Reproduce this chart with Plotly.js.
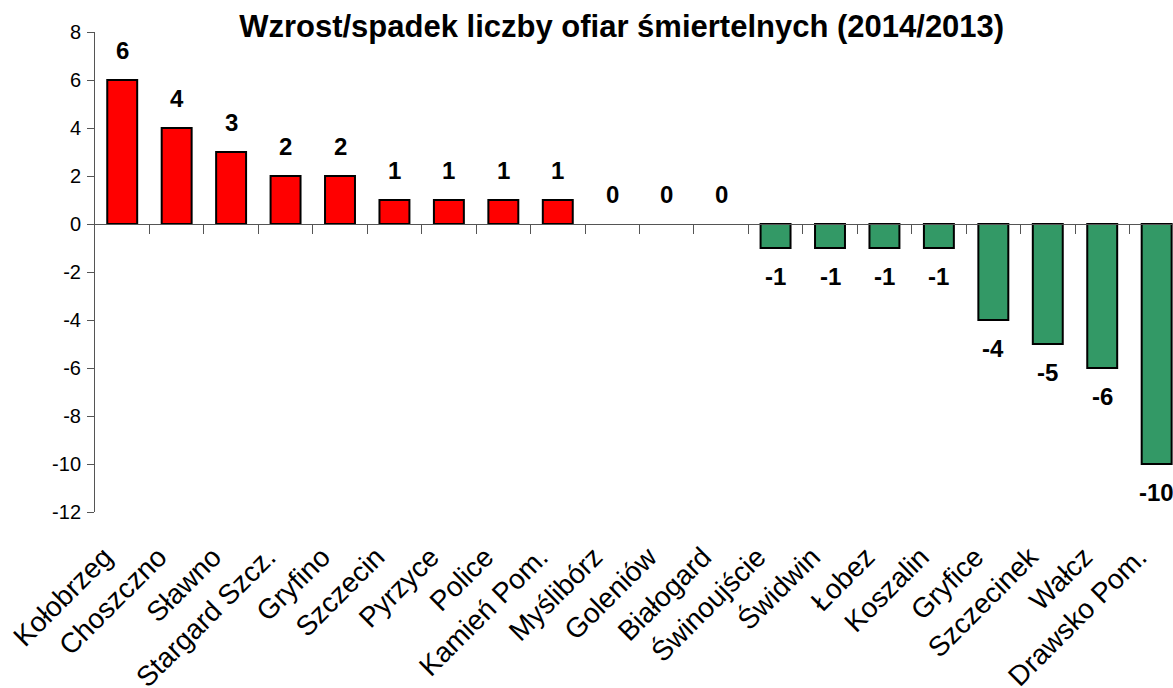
<!DOCTYPE html>
<html>
<head>
<meta charset="utf-8">
<script src="https://cdn.plot.ly/plotly-3.0.1.min.js"></script>
<style>
html,body{margin:0;padding:0;overflow:hidden;background:#fff;}
#chart{width:1173px;height:688px;}
</style>
</head>
<body>
<div id="chart"></div>
<script>
const categories = ["Kołobrzeg","Choszczno","Sławno","Stargard Szcz.","Gryfino","Szczecin","Pyrzyce","Police","Kamień Pom.","Myślibórz","Goleniów","Białogard","Świnoujście","Świdwin","Łobez","Koszalin","Gryfice","Szczecinek","Wałcz","Drawsko Pom."];
const values = [6,4,3,2,2,1,1,1,1,0,0,0,-1,-1,-1,-1,-4,-5,-6,-10];
const yTicks = [-12,-10,-8,-6,-4,-2,0,2,4,6,8];
const yTickText = yTicks.map(String);
const titleText = "Wzrost/spadek liczby ofiar śmiertelnych (2014/2013)";

const FONT = "Liberation Sans, Arial, sans-serif";
const RED = "#FF0000", GREEN = "#339966";

const barTrace = {
  type: "bar",
  x: categories,
  y: values,
  marker: {
    color: values.map(v => v >= 0 ? RED : GREEN),
    line: {color: "#000000", width: values.map(v => v === 0 ? 0 : 2)}
  },
  hoverinfo: "x+y"
};

// helper trace so that the zero-level category axis (x2) gets drawn
const zeroAxisHelper = {type: "scatter", x: [], y: [], xaxis: "x2", yaxis: "y", hoverinfo: "skip", showlegend: false};
// helper trace carrying the category labels on x3 (draws nothing)
const labelAxisHelper = {type: "scatter", mode: "none", x: categories, y: values, xaxis: "x3", yaxis: "y", hoverinfo: "skip", showlegend: false};

const annotations = categories.map((c, i) => ({
  x: c, y: values[i], xref: "x", yref: "y",
  text: String(values[i]),
  showarrow: false,
  yanchor: "middle",
  yshift: values[i] >= 0 ? 30 : -28,
  font: {family: FONT, size: 24, color: "#000", weight: "bold"}
}));

const n = categories.length;
const boundaries = categories.slice(0, n - 1).map((c, i) => i + 0.5);
const xRange = [-0.5, 19.3];
const labelShift = 0.33;

const layout = {
  width: 1173, height: 688,
  margin: {l: 95, r: 0, t: 32, b: 176},
  paper_bgcolor: "#fff", plot_bgcolor: "#fff",
  showlegend: false,
  bargap: 0.45,
  title: {
    text: titleText,
    font: {family: FONT, size: 31, color: "#000", weight: "bold"},
    x: 0.530, xref: "container", xanchor: "center",
    y: 0.962, yref: "container", yanchor: "middle"
  },
  xaxis: {
    type: "category",
    range: xRange,
    showline: false, showgrid: false, zeroline: false,
    ticks: "", showticklabels: false
  },
  xaxis2: {
    overlaying: "x",
    anchor: "free",
    position: 0.6,
    range: xRange,
    showline: true, linecolor: "#555", linewidth: 1,
    showgrid: false, zeroline: false,
    ticks: "outside", ticklen: 9, tickcolor: "#555", tickwidth: 1,
    tickmode: "array", tickvals: boundaries,
    showticklabels: false
  },
  xaxis3: {
    type: "category",
    overlaying: "x",
    anchor: "y",
    range: [xRange[0] + labelShift, xRange[1] + labelShift],
    showline: false, showgrid: false, zeroline: false,
    ticks: "",
    tickangle: -45,
    tickfont: {family: FONT, size: 28, color: "#000"},
    ticklabelstandoff: 22
  },
  yaxis: {
    range: [-12, 8],
    tickmode: "array", tickvals: yTicks, ticktext: yTickText,
    showline: true, linecolor: "#555", linewidth: 1,
    showgrid: false, zeroline: false,
    ticks: "outside", ticklen: 7, tickcolor: "#555", tickwidth: 1,
    tickfont: {family: FONT, size: 20, color: "#000"},
    ticklabelstandoff: 2
  },
  annotations: annotations
};

Plotly.newPlot("chart", [barTrace, zeroAxisHelper, labelAxisHelper], layout, {displayModeBar: false, staticPlot: true});
</script>
</body>
</html>
